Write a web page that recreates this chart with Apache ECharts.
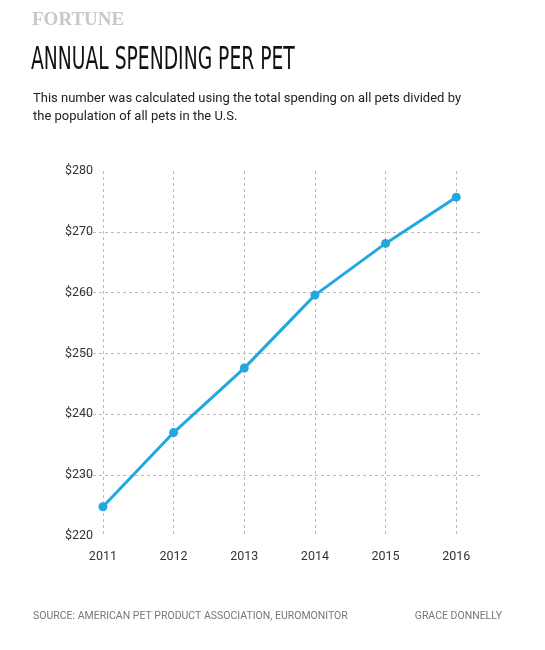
<!DOCTYPE html><html><head><meta charset="utf-8"><script src="https://cdn.jsdelivr.net/npm/echarts@6/dist/echarts.min.js"></script>
<style>body{margin:0;background:#fff}#c{width:545px;height:650px}</style></head><body><div id="c"></div><script>
const years=[2011,2012,2013,2014,2015,2016];
const spending=[224.8,237.0,247.6,259.6,268.1,275.7];
const yTicks=[220,230,240,250,260,270,280];
const chart=echarts.init(document.getElementById('c'));
chart.setOption({
 animation:false,
 graphic:[
  {type:'text',x:32,y:11,style:{text:'FORTUNE',font:'bold 19px "Liberation Serif", serif',fill:'#c8c8c8'}},
  {type:'text',x:31,y:45,scaleX:0.585,style:{text:'ANNUAL SPENDING PER PET',font:'32px "DejaVu Sans",sans-serif',fill:'#111'}},
  {type:'text',x:33,y:90,style:{text:'This number was calculated using the total spending on all pets divided by\nthe population of all pets in the U.S.',font:'13px Roboto',lineHeight:18,fill:'#222'}},
  {type:'text',left:33,top:611,style:{text:'SOURCE: AMERICAN PET PRODUCT ASSOCIATION, EUROMONITOR',font:'10.5px Roboto',fill:'#777'}},
  {type:'text',right:43,top:611,style:{text:'GRACE DONNELLY',font:'10.5px Roboto',fill:'#777'}}
 ],
 grid:{left:81,right:64,top:171,bottom:114},
 xAxis:{type:'value',min:2010.69,max:2016.35,splitLine:{show:false},axisLine:{show:false},axisTick:{show:false},
  axisLabel:{customValues:years,color:'#333',fontSize:12.5,fontFamily:'Roboto',margin:14,formatter:v=>String(v)}},
 yAxis:{type:'value',min:220,max:280,interval:10,axisLine:{show:false},axisTick:{show:false},
  axisLabel:{color:'#333',fontSize:12.5,fontFamily:'Roboto',margin:-12,align:'right',formatter:v=>'$'+v},
  splitLine:{showMinLine:false,showMaxLine:false,lineStyle:{type:[3,3],color:'#bbb'}}},
 series:[{type:'line',data:years.map((y,i)=>[y,spending[i]]),symbol:'circle',symbolSize:9,
  lineStyle:{color:'#22a8df',width:3},itemStyle:{color:'#22a8df'},z:5,
  markLine:{silent:true,symbol:'none',label:{show:false},lineStyle:{type:[3,3],color:'#bbb',width:1},
   data:years.map(y=>[{coord:[y,yTicks[yTicks.length-1]]},{coord:[y,yTicks[0]]}])}}]
});
</script></body></html>
